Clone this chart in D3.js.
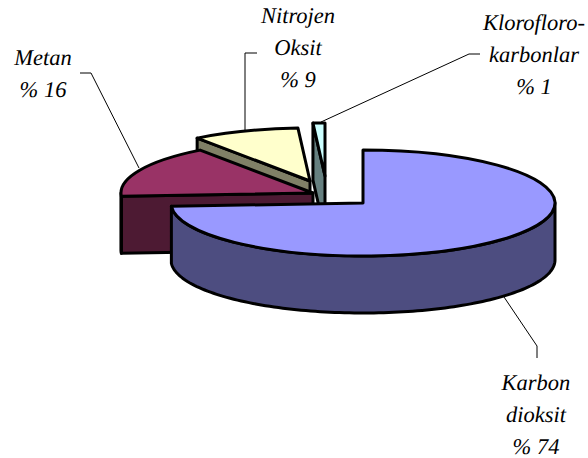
<!DOCTYPE html>
<html><head><meta charset="utf-8">
<style>html,body{margin:0;padding:0;background:#fff}svg{display:block}
text{font-family:"Liberation Serif","Times New Roman",Times,serif;font-style:italic;font-size:22.5px;fill:#000;text-anchor:middle;text-rendering:geometricPrecision}</style>
<script src="https://cdn.jsdelivr.net/npm/d3@7"></script>
</head><body><script>
const categories = ["Karbon dioksit","Metan","Nitrojen Oksit","Kloroflorokarbonlar"];
const shares = [74,16,9,1];
const topColors = ["#9999ff","#993366","#ffffcc","#ccffff"];
const sideColors = ["#4d4d80","#4d1a33","#808066","#668080"];
const labelLines = [["Karbon","dioksit","% 74"],["Metan","% 16"],["Nitrojen","Oksit","% 9"],["Klorofloro-","karbonlar","% 1"]];

const W=588,H=458,R=192,squash=53/192,depth=57;
const centers=[[363,203],[313,193],[310,181],[325,176]];
const labelPos=[[536,390],[43,65],[298,23],[534,30]];
const lineH=32;
const leaders=[[[504,297],[537,346],[537,358]],[[80,73],[91,73],[139,168]],[[257,53],[245,53],[245,133]],[[480,54],[469,54],[321,122]]];

const svg=d3.select("body").append("svg").attr("width",W).attr("height",H);
const slices=d3.pie().sort(null).value(d=>d)(shares);
const arc=d3.arc().innerRadius(0).outerRadius(R);
const ell=(a,c)=>[c[0]+R*Math.sin(a),c[1]-R*squash*Math.cos(a)];
const line=d3.line();
const sw=3;
function poly(g,pts,fill){g.append("path").attr("d",line(pts)+"Z").attr("fill",fill)
 .attr("stroke","#000").attr("stroke-width",sw).attr("stroke-linejoin","round");}

svg.append("g").selectAll("path").data(leaders).join("path")
 .attr("d",d=>line(d)).attr("fill","none").attr("stroke","#000").attr("stroke-width",1);

[3,2,1,0].forEach(i=>{
  const s=slices[i],c=centers[i],g=svg.append("g");
  if(i>0){
    const e=ell(s.startAngle,c);
    poly(g,[e,c,[c[0],c[1]+depth],[e[0],e[1]+depth]],sideColors[i]);
  }
  const a0=Math.max(s.startAngle,Math.PI/2),a1=Math.min(s.endAngle,3*Math.PI/2);
  if(a1>a0){
    const n=d3.range(0,121).map(k=>a0+(a1-a0)*k/120);
    const top=n.map(a=>ell(a,c)),bot=n.map(a=>{const p=ell(a,c);return [p[0],p[1]+depth];}).reverse();
    poly(g,top.concat(bot),sideColors[i]);
  }
  g.append("path").attr("d",arc(s))
   .attr("transform",`translate(${c[0]},${c[1]}) scale(1,${squash})`)
   .attr("vector-effect","non-scaling-stroke")
   .attr("fill",topColors[i]).attr("stroke","#000").attr("stroke-width",sw).attr("stroke-linejoin","round");
});

labelLines.forEach((ls,i)=>{
  svg.append("text").attr("data-category",categories[i]).selectAll("tspan").data(ls).join("tspan")
   .attr("x",labelPos[i][0]).attr("y",(d,k)=>labelPos[i][1]+k*lineH).text(d=>d);
});
</script></body></html>
